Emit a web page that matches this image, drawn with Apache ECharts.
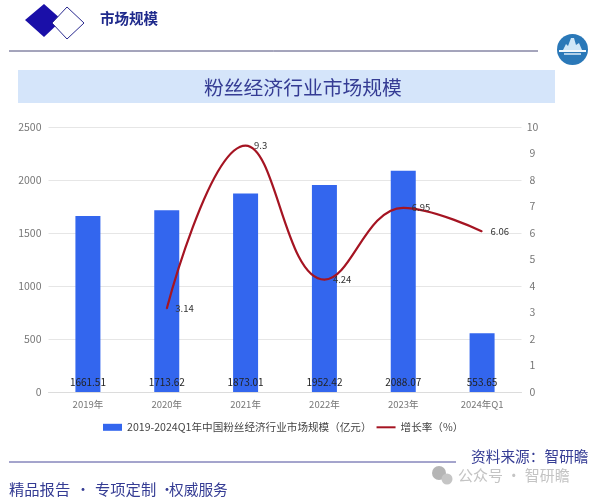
<!DOCTYPE html>
<html><head><meta charset="utf-8">
<style>html,body{margin:0;padding:0;background:#fff}#c{width:593px;height:500px}</style>
<script src="https://cdn.jsdelivr.net/npm/echarts@6/dist/echarts.min.js"></script>
</head><body><div id="c"></div>
<script>
const categories=['2019年','2020年','2021年','2022年','2023年','2024年Q1'];
const marketSize=[1661.51,1713.62,1873.01,1952.42,2088.07,553.65];
const growthRate=[null,3.14,9.3,4.24,6.95,6.06];
const barName='2019-2024Q1年中国粉丝经济行业市场规模（亿元）';
const lineName='增长率（%）';
const F='"Noto Sans CJK SC","Noto Sans",sans-serif';
const blue='#353c94';
function txt(x,yc,text,size,fill,weight){
 return {type:'text',x:x,y:yc,style:{text:text,font:(weight||'normal')+' '+size+'px '+F,fill:fill,textVerticalAlign:'middle'}};
}
const chart=echarts.init(document.getElementById('c'),null,{renderer:'canvas'});
chart.setOption({
 animation:false,
 backgroundColor:'#fff',
 grid:{left:48.5,right:71.5,top:127,bottom:108},
 legend:{top:417,left:98,itemGap:4,itemWidth:19,itemHeight:7,
  textStyle:{fontFamily:F,fontSize:10.6,color:'#444'},
  data:[{name:barName,icon:'rect'},{name:lineName,itemStyle:{opacity:0}}]},
 xAxis:{type:'category',data:categories,axisTick:{show:false},
  axisLine:{lineStyle:{color:'#dcdcdc'}},
  axisLabel:{fontFamily:F,fontSize:9.5,color:'#777',margin:8,interval:0}},
 yAxis:[
  {type:'value',min:0,max:2500,interval:500,axisLine:{show:false},axisTick:{show:false},
   splitLine:{lineStyle:{color:'#e6e6e6'}},
   axisLabel:{fontFamily:F,fontSize:10.5,color:'#777',margin:7,formatter:v=>String(v)}},
  {type:'value',min:0,max:10,interval:1,axisLine:{show:false},axisTick:{show:false},
   splitLine:{show:false},
   axisLabel:{fontFamily:F,fontSize:10.5,color:'#777',margin:11,align:'center'}}
 ],
 series:[
  {name:barName,type:'bar',data:marketSize,barWidth:25,yAxisIndex:0,
   itemStyle:{color:'#3366ee'},
   label:{show:true,position:'insideBottom',distance:5,color:'#222',fontFamily:F,fontSize:10}},
  {name:lineName,type:'line',data:growthRate,yAxisIndex:1,smooth:0.42,symbol:'circle',symbolSize:1,
   lineStyle:{color:'#a51422',width:2.2},itemStyle:{color:'#a51422'},
   label:{show:true,position:'right',distance:8,color:'#333',fontFamily:F,fontSize:9.5,
     formatter:p=>p.value==null?'':String(p.value)}}
 ],
 graphic:[
  {type:'polygon',shape:{points:[[44,4],[62,20],[44,37],[25,20]]},style:{fill:'#1a0fa8'}},
  {type:'polygon',shape:{points:[[67,7],[84,23],[67,39],[52,23]]},style:{fill:'#fff',stroke:'#2a2a90',lineWidth:1}},
  txt(100,18,'市场规模',14.5,'#1f2a8c','bold'),
  {type:'line',shape:{x1:9,y1:51,x2:538,y2:51},style:{stroke:'#4a4a78',lineWidth:1}},
  {type:'circle',shape:{cx:572.5,cy:49.5,r:15.5},style:{fill:'#2a78b8'}},
  {type:'polygon',shape:{points:[[563,50],[566,44],[568,46],[571,38],[574,38],[576,45],[579,43],[582,50]]},style:{fill:'#cfe6f7'}},
  {type:'line',shape:{x1:559,y1:51,x2:586,y2:51},style:{stroke:'#f2f8fc',lineWidth:2}},
  {type:'line',shape:{x1:564,y1:54,x2:581,y2:54},style:{stroke:'#dcecf8',lineWidth:1.5}},
  {type:'rect',z:-1,shape:{x:18,y:70,width:537,height:33},style:{fill:'#d5e5fa'}},
  txt(204,87,'粉丝经济行业市场规模',19.8,'#353c94'),
  {type:'line',shape:{x1:9,y1:462,x2:456,y2:462},style:{stroke:'#4a4a9a',lineWidth:1}},
  txt(471,456,'资料来源：智研瞻',14.7,blue),
  txt(458,475,'公众号 · 智研瞻',15,'#c4c4c4'),
  {type:'circle',shape:{cx:439,cy:473,r:7},style:{fill:'#b5b5b5'}},
  {type:'circle',shape:{cx:447,cy:479,r:5.5},style:{fill:'#c5c5c5'}},
  txt(9,489,'精品报告',15.3,blue),
  txt(76,489,'•',14,blue),
  txt(95,489,'专项定制',15.3,blue),
  txt(160,489,'•',14,blue),
  txt(169,489,'权威服务',14.7,blue)
 ]
});
</script></body></html>
